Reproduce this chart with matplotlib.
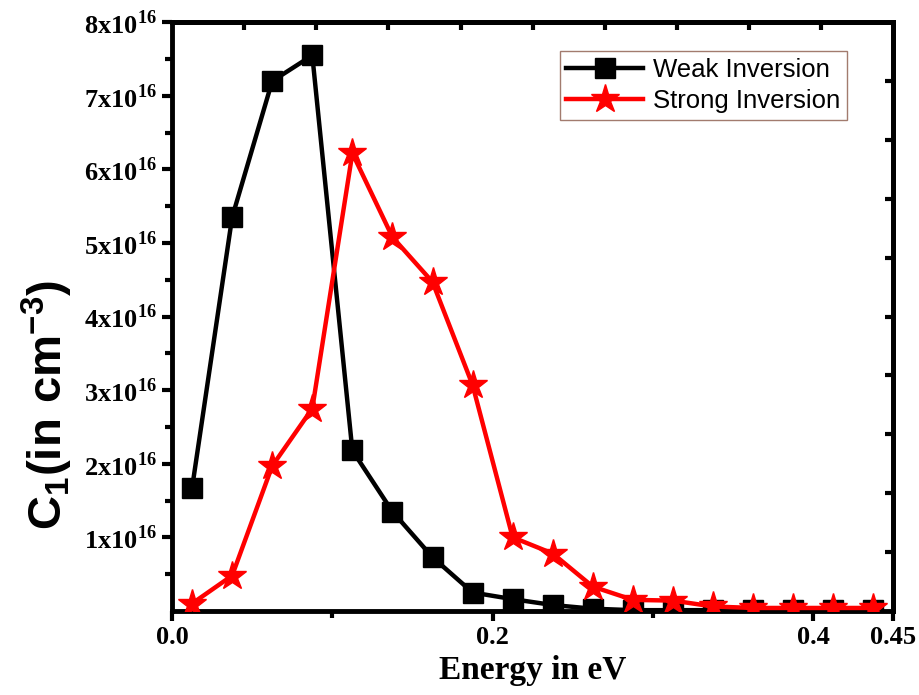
#!/usr/bin/env python3
"""C1 vs energy for weak / strong inversion (Origin-style line + symbol plot)."""
import matplotlib
matplotlib.use("Agg")
import matplotlib.pyplot as plt  # noqa: E402
import numpy as np  # noqa: E402

plt.rcParams["mathtext.fontset"] = "custom"
plt.rcParams["mathtext.rm"] = "Liberation Serif:bold"
plt.rcParams["mathtext.bf"] = "Liberation Serif:bold"
plt.rcParams["mathtext.sf"] = "Liberation Sans:bold"

# energy grid (eV) and C1 values in units of 1e16 cm^-3
energy = [0.0125, 0.0375, 0.0625, 0.0875, 0.1125, 0.1375, 0.1625, 0.1875, 0.2125,
          0.2375, 0.2625, 0.2875, 0.3125, 0.3375, 0.3625, 0.3875, 0.4125, 0.4375]
weak = [1.67, 5.35, 7.20, 7.55, 2.18, 1.35, 0.73, 0.25, 0.16,
        0.08, 0.03, 0.01, 0.01, 0.01, 0.01, 0.01, 0.01, 0.01]
strong = [0.10, 0.48, 1.97, 2.75, 6.22, 5.08, 4.47, 3.07, 1.00,
          0.78, 0.33, 0.15, 0.14, 0.06, 0.04, 0.04, 0.04, 0.04]
SCALE = 1e16

x_major = [0.0, 0.2, 0.4, 0.45]
x_major_labels = ["0.0", "0.2", "0.4", "0.45"]
x_minor = [0.1, 0.3]
y_major = [1, 2, 3, 4, 5, 6, 7, 8]
y_minor = [0.5, 1.5, 2.5, 3.5, 4.5, 5.5, 6.5, 7.5]

fig = plt.figure(figsize=(9.2, 6.95), dpi=100)
ax = fig.add_axes([0.187, 0.121, 0.784, 0.847])

e = np.array(energy)
ax.plot(e, np.array(weak) * SCALE, color="black", lw=3.2, marker="s",
        markersize=14, markerfacecolor="black", markeredgecolor="black",
        label="Weak Inversion", zorder=3)
ax.plot(e, np.array(strong) * SCALE, color="#ff0000", lw=3.2, marker="*",
        markersize=21, markerfacecolor="#ff0000", markeredgecolor="#ff0000",
        label="Strong Inversion", zorder=4)

ax.set_xlim(0, 0.45)
ax.set_ylim(0, 8 * SCALE)

# bottom / left: outward ticks with labels
ax.set_xticks(x_major)
ax.set_xticklabels(x_major_labels)
ax.set_xticks(x_minor, minor=True)
ax.set_yticks([v * SCALE for v in y_major])
ax.set_yticklabels([rf"${v}$x$10^{{16}}$" for v in y_major])
ax.set_yticks([v * SCALE for v in y_minor], minor=True)
ax.tick_params(axis="both", which="major", direction="out", length=7, width=3,
               labelsize=19, pad=4)
ax.tick_params(axis="both", which="minor", direction="out", length=5, width=3)
for lab in ax.get_xticklabels() + ax.get_yticklabels():
    lab.set_family("Liberation Serif")
    lab.set_weight("bold")

# top / right: inward ticks on their own spacing, no labels
top = ax.secondary_xaxis("top")
top.set_xticks([0.045 * k for k in range(1, 10)])
top.tick_params(direction="in", length=6, width=3, labeltop=False)
top.set_xticklabels([])
right = ax.secondary_yaxis("right")
right.set_yticks([0.8 * k * SCALE for k in range(1, 10)])
right.tick_params(direction="in", length=6, width=3, labelright=False)
right.set_yticklabels([])
for sp in list(ax.spines.values()) + [top.spines["top"], right.spines["right"]]:
    sp.set_linewidth(3.5)

ax.set_xlabel("Energy in eV", family="Liberation Serif", weight="bold",
              fontsize=24, labelpad=4)
ax.set_ylabel(r"$\mathsf{C_1(in\ cm^{-3})}$", fontsize=34)
ax.yaxis.set_label_coords(-0.135, 0.35)

leg = ax.legend(loc="upper right", bbox_to_anchor=(0.936, 0.951),
                prop={"family": "Liberation Sans", "size": 18.5}, frameon=True,
                fancybox=False, handlelength=3.0, borderpad=0.25, labelspacing=0.3,
                handletextpad=0.4, borderaxespad=0)
leg.get_frame().set_edgecolor("#8b5a4a")
leg.get_frame().set_linewidth(1.0)

fig.savefig("out.png", dpi=100)
